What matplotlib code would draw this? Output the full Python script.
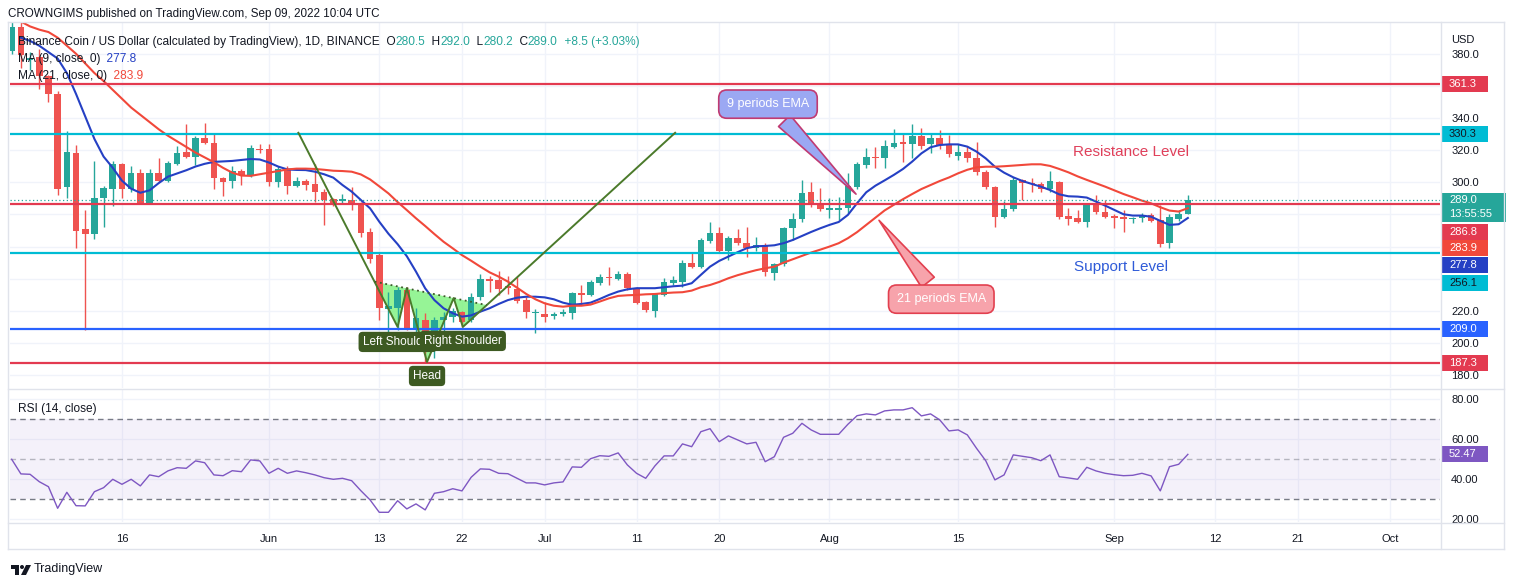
import numpy as np
import pandas as pd
import matplotlib
matplotlib.use('Agg')
import matplotlib.pyplot as plt
import matplotlib.dates as mdates
import matplotlib.transforms as mtrans
from matplotlib.patches import Rectangle, Polygon, Circle
from matplotlib.lines import Line2D

plt.rcParams['font.family'] = ['Liberation Sans', 'DejaVu Sans']
plt.rcParams['text.color'] = '#131722'

# ---- data (daily BNB/USD candles) ----
dates = pd.date_range('2022-05-04', '2022-09-09', freq='D')

opens = [382, 396.6, 376, 378, 366, 355, 297, 318, 271, 268,
         290, 296, 311.5, 296, 306, 287, 306, 301, 311.5, 319,
         316, 327.5, 324.5, 302.7, 300.8, 306.8, 304.7, 321, 321, 300,
         308.5, 298, 301, 299, 294.2, 289.4, 288.3, 289, 286.9, 269.3,
         254.7, 221, 221.6, 233, 209, 214.3, 196.7, 214.3, 216.4, 219.5,
         214.3, 228.4, 239.9, 239.3, 235.5, 233.7, 226.8, 218.6, 218.1, 217,
         218.1, 218.5, 231, 230, 237.6, 241.3, 239.9, 242.8, 234.1, 225.6,
         220.2, 230, 237.6, 238.2, 249.6, 247.6, 263.7, 268.3, 257.5, 265.6,
         262.5, 259.4, 261.2, 243.5, 249.2, 271.4, 277, 294.2, 286.5, 283,
         282.8, 283.8, 297.3, 311, 316, 315, 322.2, 324.9, 323.6, 329,
         323.6, 327.4, 323.6, 316.6, 318.7, 315.4, 306.2, 297.3, 278.6, 283.4,
         301.5, 299.4, 298.8, 295.9, 300, 279.3, 277.6, 275.5, 286.3, 281.7,
         279.3, 278.6, 277.2, 278, 279.7, 276.6, 262.1, 277.2, 280.5]
highs = [400, 399.5, 381, 383, 367, 357, 332, 323, 283, 313,
         298, 313, 312, 310, 308, 308.5, 315, 313, 322.6, 336.5,
         329, 337, 330, 303, 310, 308, 323, 324, 324, 310,
         310, 303, 302, 311.4, 296, 290, 292.5, 297.3, 288, 271.3,
         256, 231.9, 235, 235, 221.6, 218.5, 216, 219.5, 222, 220,
         230.9, 242.9, 241.7, 245, 241.7, 240.9, 228.9, 221, 225.8, 219.5,
         221, 231.6, 236.1, 239, 243, 247.5, 245, 244, 235, 226,
         231, 240.3, 242, 251.7, 255.9, 265.5, 275.5, 272, 266.5, 271,
         272.4, 265.8, 262, 250, 272, 280.7, 301.5, 300.4, 296.3, 290.1,
         290.7, 305.6, 312.5, 321.2, 322.2, 326.4, 333.2, 330.5, 336.1, 334,
         329.9, 332.6, 329.5, 323.6, 322.8, 324.9, 307.7, 298, 288.4, 303.5,
         302, 302.5, 300.4, 307.1, 300.5, 283.8, 282.8, 287, 292.1, 289,
         280, 282.8, 278.6, 280.7, 280.7, 285.9, 280, 282.8, 292]
lows = [380, 371, 370, 358, 350, 292, 290, 259, 208, 265,
        272, 285, 290, 294, 286.5, 286.5, 300, 300, 311, 315,
        311, 324, 296, 291.5, 296.7, 298.5, 303, 318, 298, 297,
        293, 297, 295, 288, 273.4, 285, 287, 282.7, 265.7, 250,
        214.3, 205, 208.1, 208, 207, 188.4, 190.5, 205, 213, 210.2,
        213.3, 227, 232, 229.9, 230.5, 225, 215.4, 206, 213.3, 215,
        216.5, 214.8, 223.7, 229, 236.2, 236.2, 239, 233, 224, 219,
        216.4, 229, 236, 234.7, 246.5, 246.5, 262, 256, 251.7, 261,
        253.7, 257, 242, 239.5, 248, 264.1, 275.5, 284.9, 282, 277.6,
        276.6, 281, 296, 308.7, 308.7, 308.7, 321.2, 312.9, 315, 321,
        318, 321, 316, 313.9, 312.9, 304.6, 295.9, 272.4, 277.6, 282,
        289, 294.2, 294, 294, 277, 273.5, 274.5, 272.4, 280, 277.6,
        271.4, 269.3, 274.5, 275.5, 275, 260, 259, 276, 280.2]
closes = [396.6, 379, 377.5, 366, 355, 296, 319, 270, 268, 290,
          296.5, 311.5, 296, 306, 287, 306, 301, 312, 318.5, 316,
          327.5, 324.7, 302.5, 300.2, 306.8, 304.7, 321.4, 320, 300, 308,
          298, 300.5, 298.3, 294.2, 289, 286.5, 289.4, 285.9, 268.6, 252,
          221.6, 223, 233, 209.1, 215.3, 195.6, 214.3, 216.4, 220, 213.3,
          228.4, 239.6, 238.8, 233.5, 234.3, 226.4, 219, 219.6, 216, 218,
          219, 231, 230, 238.2, 240.9, 240.3, 243, 234.1, 225.2, 220.6,
          230.3, 237.8, 239.3, 249.6, 247.1, 264.1, 268.3, 257.5, 265.6, 262,
          259, 261, 244, 249.2, 271.4, 277.4, 293.6, 285.9, 283.2, 283.8,
          283.8, 297.7, 311.6, 315.6, 315, 322.6, 324.3, 323.9, 329, 322.8,
          327.8, 323.2, 317.4, 319.1, 315.4, 306.2, 297.3, 278.6, 283.4, 301.5,
          299.4, 298.8, 295.9, 300.8, 278.6, 277.2, 275.5, 285.9, 281.3, 278.6,
          277.6, 277.2, 278, 279.7, 276, 261.4, 278.6, 280.5, 289]

# moving averages (from the 2nd candle on)
ma9 = [390, 388, 385, 381, 377, 368, 355, 341, 327, 316,
       309, 301, 296, 293.5, 295, 299.5, 303.5, 305.5, 307.5, 309.8,
       311.5, 312.7, 313, 313.3, 313.9, 314.5, 314.2, 312.3, 309.8, 308,
       307.7, 307.6, 306.6, 305, 302.9, 298.3, 294.2, 289, 283.8, 275.5,
       268, 261.5, 254, 244.4, 234, 226.7, 221.6, 218.5, 216.4, 217.2,
       219.5, 221.6, 224.3, 226.7, 228.2, 228.8, 228.8, 228.4, 227.2, 225.1,
       223.8, 224.3, 225.1, 227.4, 229.9, 232, 233.4, 234.1, 234.1, 234.1,
       234.7, 235.3, 235.7, 237.2, 242.4, 247.5, 251.1, 253.8, 256.5, 259,
       260.2, 260.4, 260.8, 262.1, 264.1, 266.6, 269.1, 271.4, 273.5, 275.3,
       279.7, 287, 293.8, 297.9, 301.2, 304.6, 308.3, 312.9, 318, 321.8,
       323.2, 323.6, 323.6, 322.2, 319.1, 314.9, 309.7, 306, 303.1, 300.8,
       299, 297.3, 295.2, 292.5, 291.3, 291.1, 290.5, 288, 285.5, 282.8,
       280.1, 279.3, 279.3, 278.6, 276, 273.5, 273.9, 277.8]
ma21 = [400, 397, 395, 393.5, 390, 385, 380, 374, 368, 363,
        357.5, 352, 346.5, 342, 337.5, 333, 329, 325.5, 322, 318.5,
        315.5, 312.5, 309, 306, 304.2, 304, 305, 306, 307, 308,
        308.5, 308.5, 308.3, 307.8, 307.2, 307, 306.6, 304.9, 301.8, 297.5,
        293.1, 287.7, 282.7, 277.6, 272.8, 267.8, 263, 258.9, 254.7, 251.2,
        247.5, 244, 241.3, 238.2, 234.4, 230.5, 227.2, 224.7, 223.2, 222.6,
        223.2, 223.2, 223.9, 225.8, 227.8, 229.3, 229.7, 229.9, 230.3, 230.5,
        231, 231.4, 231.6, 232.6, 234.7, 236.1, 238, 240.3, 242.2, 243.8,
        245.3, 246.5, 247.5, 250, 252.1, 254.2, 256.3, 258.1, 260, 262.1,
        265.2, 269, 273.5, 278, 282.5, 286, 289.5, 292.7, 295.8, 298.3,
        300.8, 303, 305.6, 307.8, 309.3, 309.7, 309.7, 310, 310.4, 310.8,
        311.2, 311.2, 310.2, 308.3, 306.2, 303.7, 301.5, 299.4, 297.3, 295,
        292.7, 290.7, 288.6, 286.9, 284.5, 282.4, 281.8, 283.9]

rsi = [50, 42.7, 42.5, 38.8, 36.3, 25.5, 33.5, 26.8, 26.7, 33.8,
       35.8, 40, 37.5, 40, 36.7, 42.2, 41.3, 44.2, 45.8, 45.5,
       49.2, 48.3, 42.2, 41.8, 44.3, 43.8, 49.7, 49.2, 43, 45.5,
       43, 44.2, 43.3, 42.2, 40.8, 40, 40.5, 39.3, 34.3, 29.7,
       23.5, 23.5, 29.3, 25.2, 27.7, 24.7, 33, 33.8, 35.3, 34.2,
       41, 45.2, 45, 43, 42.8, 40.5, 38.2, 38.2, 37.2, 38.2,
       38.7, 46.2, 46, 50.3, 51.8, 51.5, 53.2, 47.2, 43, 40.5,
       46.7, 51.7, 51.7, 57.7, 56.3, 63.8, 65.3, 58.8, 61.7, 59.7,
       57.7, 58.5, 48.8, 51.3, 61, 63, 68, 64.7, 62.5, 62.5,
       62.5, 67.5, 71.8, 72.7, 72.2, 74.2, 74.7, 74.7, 75.8, 71.7,
       72.7, 69.7, 64.2, 64.7, 62.2, 55.5, 49.3, 39.7, 42.2, 52.2,
       51.5, 50.8, 49.3, 52.2, 41.3, 40.7, 40, 46, 44.2, 43,
       42.3, 41.8, 42, 43, 41.7, 34.2, 46.3, 47.5, 52.47]

# horizontal support / resistance levels
levels = [361.3, 330.3, 286.8, 256.1, 209.0, 187.3]
RED, CYAN, BLUE = '#e33a50', '#00bcd4', '#2962ff'
level_colors = [RED, CYAN, RED, CYAN, BLUE, RED]

# inverse head & shoulders drawing (days after May 4, price)
hs_t = [31.2, 42.0, 43.0, 45.2, 48.1, 49.1, 72.2]
hs_p = [330.8, 210.0, 234.2, 188.2, 228.0, 210.0, 330.8]
hs_fill_t = [39.5, 42.0, 43.0, 45.2, 48.1, 49.1, 51.7]
hs_fill_p = [238.2, 210.0, 234.2, 188.2, 228.0, 210.0, 223.6]

price_ticks = [180, 200, 220, 240, 260, 280, 300, 320, 340, 360, 380]
price_hidden = [240, 260, 280, 360]   # covered by the value tags on the scale
rsi_ticks = [20, 40, 60, 80]

tick_dates = ['2022-05-16', '2022-06-01', '2022-06-13', '2022-06-22', '2022-07-01',
              '2022-07-11', '2022-07-20', '2022-08-01', '2022-08-15', '2022-09-01',
              '2022-09-12', '2022-09-21', '2022-10-01']
tick_labels = ['16', 'Jun', '13', '22', 'Jul', '11', '20', 'Aug', '15', 'Sep', '12', '21', 'Oct']

UP, DOWN = '#26a69a', '#ef5350'
MA9C, MA21C = '#2540c4', '#f1483a'
PURPLE = '#7e57c2'
GRID = '#f0f3fa'
FRAME = '#e0e3eb'
TXT = '#131722'

W, H = 1514, 587
fig = plt.figure(figsize=(W / 100, H / 100), dpi=100)


def fx(px):
    return px / W


def fy(py):
    return 1 - py / H


ax = fig.add_axes([fx(10), fy(388), fx(1440) - fx(10), fy(22) - fy(388)])
axr = fig.add_axes([fx(10), fy(522), fx(1440) - fx(10), fy(390) - fy(522)], sharex=ax)

xs = mdates.date2num(dates)
x0 = xs[0]
o, h, l, c = map(np.array, (opens, highs, lows, closes))
cols = np.where(c >= o, UP, DOWN)

ax.vlines(xs, l, h, colors=cols, lw=1, zorder=3)
ax.bar(xs, np.maximum(np.abs(c - o), 0.5), bottom=np.minimum(o, c), width=0.72,
       color=cols, lw=0, zorder=3)

ax.plot(xs[1:], ma9, color=MA9C, lw=1.5, zorder=3.5)
ax.plot(xs[1:], ma21, color=MA21C, lw=1.5, zorder=3.5)

for v, col in zip(levels, level_colors):
    ax.axhline(v, color=col, lw=1.6, zorder=4)
ax.axhline(closes[-1], color=UP, lw=0.9, ls=(0, (1, 2)), zorder=4)

# head & shoulders
ax.fill(x0 + np.array(hs_fill_t), hs_fill_p, color='#7cf27c', alpha=0.8, lw=0, zorder=2)
ax.plot(x0 + np.array(hs_t), hs_p, color='#4b7a2b', lw=1.4, zorder=4)
ax.plot([x0 + hs_fill_t[0], x0 + hs_fill_t[-1]], [hs_fill_p[0], hs_fill_p[-1]],
        color='#3c5a2a', lw=1.3, ls=(0, (1, 2)), zorder=4)
hs_box = dict(boxstyle='round,pad=0.35', fc='#3d5a22', ec='none')
for name, i, dy in [('Left Shoulder', 1, -15), ('Head', 3, -14), ('Right Shoulder', 5, -14)]:
    ax.annotate(name, xy=(x0 + hs_t[i], hs_p[i]), xytext=(0, dy), textcoords='offset pixels',
                ha='center', va='center', color='white', fontsize=8.5, bbox=hs_box, zorder=5)

# callouts
ax.annotate('9 periods EMA', xy=(x0 + 92.1, 291.4), xytext=(-90, 92), textcoords='offset pixels',
            ha='center', va='center', color='white', fontsize=9, zorder=6,
            bbox=dict(boxstyle='round,pad=0.65', fc='#9ba8f3', ec='#c03a72', lw=1.2),
            arrowprops=dict(arrowstyle='wedge,tail_width=1.3,shrink_factor=0.5',
                            fc='#9ba8f3', ec='#c03a72', lw=1.2))
ax.annotate('21 periods EMA', xy=(x0 + 94.2, 277.7), xytext=(64, -81), textcoords='offset pixels',
            ha='center', va='center', color='white', fontsize=9, zorder=6,
            bbox=dict(boxstyle='round,pad=0.65', fc='#f7a3ab', ec='#e2404f', lw=1.2),
            arrowprops=dict(arrowstyle='wedge,tail_width=1.3,shrink_factor=0.5',
                            fc='#f7a3ab', ec='#e2404f', lw=1.2))

ax.text(x0 + 121.8, 318.9, 'Resistance Level', color='#e0405a', fontsize=11,
        ha='center', va='center', zorder=5)
ax.text(x0 + 120.7, 247.1, 'Support Level', color='#2f5bd8', fontsize=11,
        ha='center', va='center', zorder=5)

# RSI pane
axr.axhspan(30, 70, color=PURPLE, alpha=0.08, lw=0)
for v, a in [(70, 1), (50, 0.5), (30, 1)]:
    axr.axhline(v, color='#787b86', alpha=a, lw=1, ls=(0, (4, 3)))
axr.plot(xs, rsi, color=PURPLE, lw=1, zorder=3)

# limits, ticks, grids
ax.set_xlim(x0 - 0.185, x0 + 155.44)
ax.set_ylim(172.0, 399.75)
axr.set_ylim(18.65, 84.65)
for a in (ax, axr):
    a.set_autoscale_on(False)
    for s in a.spines.values():
        s.set_visible(False)
    a.yaxis.tick_right()
    a.tick_params(axis='y', length=0, pad=8, labelsize=8, labelcolor=TXT)
    a.grid(True, color=GRID, lw=1)
    a.set_axisbelow(True)

ax.set_yticks(price_ticks)
ax.set_yticklabels(['' if v in price_hidden else f'{v:.1f}' for v in price_ticks])
axr.set_yticks(rsi_ticks)
axr.set_yticklabels([f'{v:.2f}' for v in rsi_ticks])
axr.set_xticks(mdates.date2num(pd.to_datetime(tick_dates)))
axr.set_xticklabels(tick_labels)
axr.tick_params(axis='x', length=0, pad=9, labelsize=8, labelcolor=TXT)
ax.tick_params(axis='x', length=0, labelbottom=False)


# price-scale tags
def tag(a, y, txt, fc, tc, w=47, h=16):
    y0, y1 = a.get_ylim()
    ppu = a.get_position().height * H / (y1 - y0)
    tr = mtrans.blended_transform_factory(a.transAxes, a.transData)
    xa = lambda px: (px - 10) / 1430
    a.add_patch(Rectangle((xa(1441), y - h / 2 / ppu), w / 1430, h / ppu, transform=tr,
                          fc=fc, ec='none', clip_on=False, zorder=6))
    a.text(xa(1449), y, txt, transform=tr, color=tc, fontsize=8, va='center', ha='left',
           clip_on=False, zorder=7)


tag_pos = [361.3, 330.3, 268.9, 259.2, 248.5, 237.6, 209.0, 187.3]
tag_vals = [levels[0], levels[1], levels[2], ma21[-1], ma9[-1], levels[3], levels[4], levels[5]]
tag_fc = [RED, CYAN, RED, MA21C, MA9C, CYAN, BLUE, RED]
tag_tc = ['white', TXT, 'white', 'white', 'white', TXT, 'white', 'white']
for y, v, fc, tc in zip(tag_pos, tag_vals, tag_fc, tag_tc):
    tag(ax, y, f'{v:.1f}', fc, tc)
tag(ax, 284.6, '', UP, 'white', w=65, h=29)
tr = mtrans.blended_transform_factory(ax.transAxes, ax.transData)
ax.text((1449 - 10) / 1430, 288.9, f'{closes[-1]:.1f}', transform=tr, color='white',
        fontsize=8, va='center', clip_on=False, zorder=7)
ax.text((1449 - 10) / 1430, 280.3, '13:55:55', transform=tr, color='white',
        fontsize=8, va='center', clip_on=False, zorder=7)
tag(axr, rsi[-1], f'{rsi[-1]:.2f}', PURPLE, 'white')

fig.text(fx(1451), fy(40), 'USD', fontsize=8, va='center', ha='left',
         bbox=dict(fc='white', ec='none', pad=2.5))


# legends
def seq(x_px, y_px, parts, size):
    t = fig.text(fx(x_px), fy(y_px), parts[0][0], color=parts[0][1], fontsize=size,
                 va='center', ha='left')
    for s, col in parts[1:]:
        t = ax.annotate(s, xy=(1, 0), xycoords=t, va='bottom', ha='left', color=col,
                        fontsize=size, annotation_clip=False)


chg = closes[-1] - closes[-2]
seq(8, 14, [('CROWNGIMS published on TradingView.com, Sep 09, 2022 10:04 UTC', TXT)], 8.4)
seq(18, 42, [('Binance Coin / US Dollar (calculated by TradingView), 1D, BINANCE', TXT),
             ('  O', TXT), (f'{opens[-1]:.1f}', UP), ('  H', TXT), (f'{highs[-1]:.1f}', UP),
             ('  L', TXT), (f'{lows[-1]:.1f}', UP), ('  C', TXT), (f'{closes[-1]:.1f}', UP),
             (f'  {chg:+.1f} ({chg / closes[-2] * 100:+.2f}%)', UP)], 8.6)
seq(18, 59, [('MA (9, close, 0)', TXT), (f'  {ma9[-1]:.1f}', MA9C)], 8.6)
seq(18, 76, [('MA (21, close, 0)', TXT), (f'  {ma21[-1]:.1f}', MA21C)], 8.6)
seq(18, 409, [('RSI (14, close)', TXT), (f'  {rsi[-1]:.2f}', PURPLE)], 8.6)

# frame
for (xa_, xb_, ya_, yb_) in [(8, 1504, 22, 22), (8, 1504, 389, 389), (8, 1504, 523, 523),
                             (8, 1504, 549, 549), (8, 8, 22, 549), (1441, 1441, 22, 549),
                             (1504, 1504, 22, 549)]:
    fig.add_artist(Line2D([fx(xa_), fx(xb_)], [fy(ya_), fy(yb_)], transform=fig.transFigure,
                          color=FRAME, lw=1))

# TradingView logo
lg = fig.add_axes([fx(11), fy(576), fx(32) - fx(11), fy(562) - fy(576)])
lg.set_xlim(0, 21)
lg.set_ylim(0, 14)
lg.axis('off')
lg.add_patch(Rectangle((0, 7), 8, 4, fc=TXT, ec='none'))
lg.add_patch(Rectangle((4, 1), 4, 10, fc=TXT, ec='none'))
lg.add_patch(Circle((11, 9), 2, fc=TXT, ec='none'))
lg.add_patch(Polygon([(10, 1), (15, 11), (20, 11), (15, 1)], fc=TXT, ec='none'))
fig.text(fx(34), fy(569), 'TradingView', fontsize=9, va='center', ha='left')

fig.savefig('out.png', dpi=100)
